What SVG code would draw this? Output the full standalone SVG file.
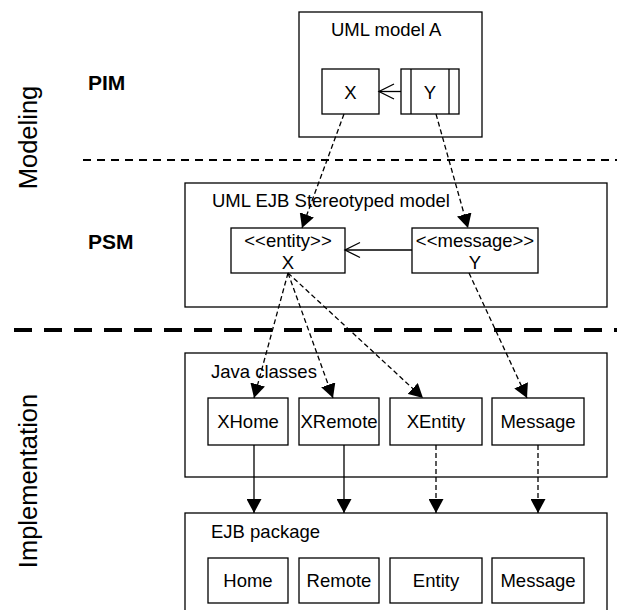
<svg xmlns="http://www.w3.org/2000/svg" width="617" height="610" viewBox="0 0 617 610">
  <style>
    text { font-family: "Liberation Sans", Arial, sans-serif; fill: #000; }
    .t { font-size: 18.5px; }
    .c { text-anchor: middle; }
    .lvl { font-size: 21px; font-weight: bold; }
    .side { font-size: 25.5px; text-anchor: middle; }
    .box { fill: #fff; stroke: #000; stroke-width: 1.3; }
    .pkg { fill: none; stroke: #000; stroke-width: 1.3; }
    .solid { fill: none; stroke: #000; stroke-width: 1.3; }
    .dash { fill: none; stroke: #000; stroke-width: 1.3; stroke-dasharray: 5 3; }
    .open { fill: none; stroke: #000; stroke-width: 1.3; }
  </style>
  <defs>
    <marker id="head" markerUnits="userSpaceOnUse" markerWidth="14" markerHeight="15" refX="14" refY="7.5" orient="auto" viewBox="0 0 14 15">
      <path d="M0,0 L14,7.5 L0,15 Z" fill="#000"/>
    </marker>
  </defs>

  <!-- level separators -->
  <g id="separators">
    <line x1="83" y1="160" x2="617" y2="160" stroke="#000" stroke-width="2" stroke-dasharray="8 6"/>
    <line x1="14" y1="330" x2="617" y2="330" stroke="#000" stroke-width="4" stroke-dasharray="18 12"/>
  </g>

  <!-- side labels -->
  <g id="labels">
    <text class="side" transform="translate(37,137.5) rotate(-90)">Modeling</text>
    <text class="side" transform="translate(37,481) rotate(-90)">Implementation</text>
    <text class="lvl" x="88" y="90">PIM</text>
    <text class="lvl" x="88" y="249">PSM</text>
  </g>

  <!-- PIM package -->
  <g id="pim">
    <rect class="pkg" x="299" y="12" width="183" height="125"/>
    <text class="t" x="331" y="36">UML model A</text>
  </g>
  <g id="pim-x">
    <rect class="box" x="322" y="69" width="57" height="45"/>
    <text class="t c" x="350.5" y="98.5">X</text>
  </g>
  <g id="pim-y">
    <rect class="box" x="401" y="69" width="58" height="45"/>
    <line class="solid" x1="411" y1="69" x2="411" y2="114"/>
    <line class="solid" x1="449" y1="69" x2="449" y2="114"/>
    <text class="t c" x="430" y="98.5">Y</text>
  </g>

  <!-- PSM package -->
  <g id="psm">
    <rect class="pkg" x="185" y="183" width="422" height="124"/>
    <text class="t" x="212" y="207">UML EJB Stereotyped model</text>
  </g>
  <g id="psm-x">
    <rect class="box" x="231" y="228" width="114" height="45"/>
    <text class="t c" x="288" y="247">&lt;&lt;entity&gt;&gt;</text>
    <text class="t c" x="288" y="269">X</text>
  </g>
  <g id="psm-y">
    <rect class="box" x="412" y="228" width="126" height="45"/>
    <text class="t c" x="475" y="247">&lt;&lt;message&gt;&gt;</text>
    <text class="t c" x="475" y="269">Y</text>
  </g>

  <!-- Java classes package -->
  <g id="java">
    <rect class="pkg" x="185" y="353" width="422" height="124"/>
    <text class="t" x="211" y="378">Java classes</text>
  </g>
  <g id="java-xhome">
    <rect class="box" x="208" y="398" width="80" height="47"/>
    <text class="t c" x="248" y="428">XHome</text>
  </g>
  <g id="java-xremote">
    <rect class="box" x="299" y="398" width="80" height="47"/>
    <text class="t c" x="339" y="428">XRemote</text>
  </g>
  <g id="java-xentity">
    <rect class="box" x="390" y="398" width="92" height="47"/>
    <text class="t c" x="436" y="428">XEntity</text>
  </g>
  <g id="java-message">
    <rect class="box" x="492" y="398" width="92" height="47"/>
    <text class="t c" x="538" y="428">Message</text>
  </g>

  <!-- EJB package -->
  <g id="ejb">
    <rect class="pkg" x="185" y="513" width="422" height="110"/>
    <text class="t" x="211" y="538">EJB package</text>
  </g>
  <g id="ejb-home">
    <rect class="box" x="208" y="558" width="80" height="45"/>
    <text class="t c" x="248" y="587">Home</text>
  </g>
  <g id="ejb-remote">
    <rect class="box" x="299" y="558" width="80" height="45"/>
    <text class="t c" x="339" y="587">Remote</text>
  </g>
  <g id="ejb-entity">
    <rect class="box" x="390" y="558" width="92" height="45"/>
    <text class="t c" x="436" y="587">Entity</text>
  </g>
  <g id="ejb-message">
    <rect class="box" x="492" y="558" width="92" height="45"/>
    <text class="t c" x="538" y="587">Message</text>
  </g>

  <!-- connectors -->
  <g id="connectors">
    <!-- associations with open heads -->
    <line class="solid" x1="401" y1="91.5" x2="379" y2="91.5"/>
    <polyline class="open" points="394,84 379,91.5 394,99"/>
    <line class="solid" x1="412" y1="250" x2="345" y2="250"/>
    <polyline class="open" points="360,242.5 345,250 360,257.5"/>

    <!-- PIM to PSM -->
    <line class="dash" x1="344" y1="114" x2="302" y2="228" marker-end="url(#head)"/>
    <line class="dash" x1="436" y1="114" x2="468" y2="228" marker-end="url(#head)"/>

    <!-- PSM to Java classes -->
    <line class="dash" x1="288" y1="273" x2="254" y2="398" marker-end="url(#head)"/>
    <line class="dash" x1="288" y1="273" x2="333" y2="398" marker-end="url(#head)"/>
    <line class="dash" x1="288" y1="273" x2="423" y2="398" marker-end="url(#head)"/>
    <line class="dash" x1="469" y1="273" x2="527" y2="398" marker-end="url(#head)"/>

    <!-- Java classes to EJB package -->
    <line class="solid" x1="254" y1="445" x2="254" y2="513" marker-end="url(#head)"/>
    <line class="solid" x1="344" y1="445" x2="344" y2="513" marker-end="url(#head)"/>
    <line class="dash" x1="436" y1="445" x2="436" y2="513" marker-end="url(#head)"/>
    <line class="dash" x1="538" y1="445" x2="538" y2="513" marker-end="url(#head)"/>
  </g>
</svg>
